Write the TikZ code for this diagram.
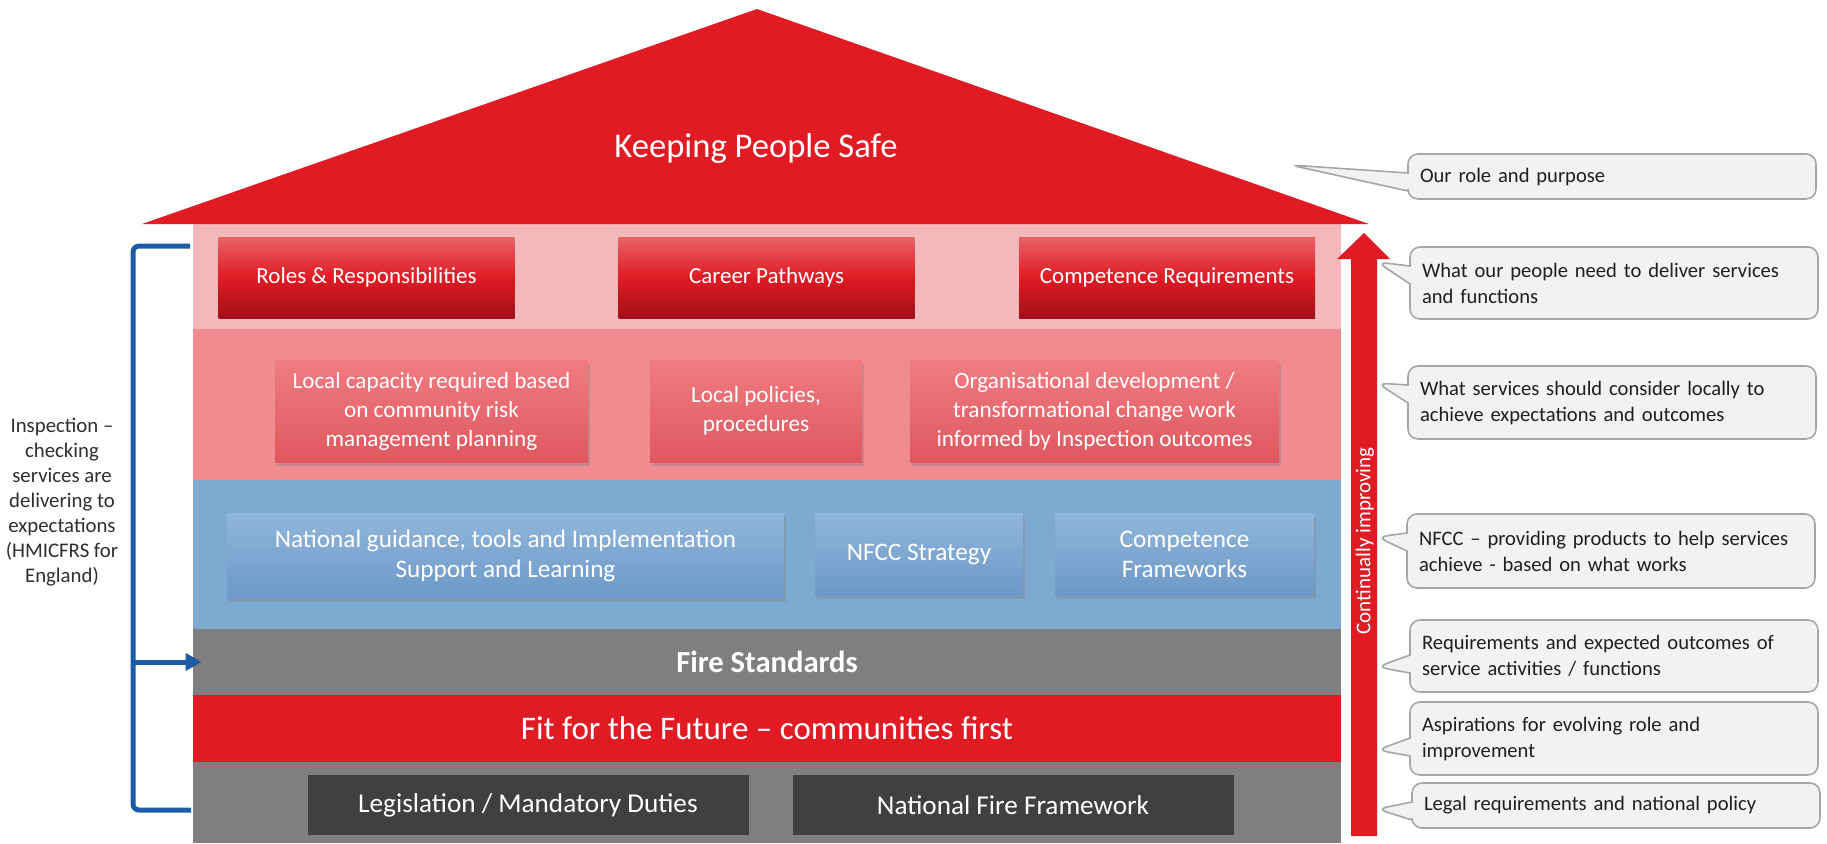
\documentclass[tikz,border=0pt]{standalone}
\usepackage{fontspec}
\setmainfont{Carlito}
\usetikzlibrary{shapes.callouts,shadows,arrows.meta}

\definecolor{roofred}{HTML}{E01B24}
\definecolor{pinklight}{HTML}{F4B8BB}
\definecolor{pinkdark}{HTML}{F08B8F}
\definecolor{bandblue}{HTML}{7EA9D0}
\definecolor{bandgrey}{HTML}{7F7F7F}
\definecolor{boxgrey}{HTML}{404040}
\definecolor{notefill}{HTML}{F2F2F2}
\definecolor{noteline}{HTML}{A6A6A6}
\definecolor{bracketblue}{HTML}{1A5DA6}
\definecolor{redtop}{RGB}{233,98,104}
\definecolor{redbottom}{RGB}{160,16,24}
\definecolor{pinktop}{RGB}{240,124,129}
\definecolor{pinkbottom}{RGB}{222,88,95}
\definecolor{bluetop}{RGB}{145,182,219}
\definecolor{bluebottom}{RGB}{108,153,199}

\begin{document}
\begin{tikzpicture}[x=0.5pt,y=-0.5pt,
		band/.style={minimum width=574pt,inner sep=0pt,text=white},
		redbox/.style={minimum width=148pt,minimum height=40.5pt,inner sep=0pt,text=white,
			font=\fontsize{11.5}{14}\selectfont,top color=redtop,bottom color=redbottom,middle color=roofred},
		pinkbox/.style={minimum height=51pt,inner sep=0pt,align=center,text=white,
			font=\fontsize{11.6}{14.5}\selectfont,top color=pinktop,bottom color=pinkbottom,
			drop shadow={shadow xshift=1pt,shadow yshift=-2pt,opacity=0.35}},
		bluebox/.style={minimum height=42.5pt,inner sep=0pt,align=center,text=white,
			font=\fontsize{12.6}{15}\selectfont,top color=bluetop,bottom color=bluebottom,
			drop shadow={shadow xshift=1pt,shadow yshift=-2pt,opacity=0.35}},
		darkbox/.style={minimum width=220.5pt,minimum height=30pt,inner sep=0pt,fill=boxgrey,text=white,
			font=\fontsize{13.6}{16}\selectfont},
		note/.style={rectangle callout,draw=noteline,fill=notefill,line width=0.8pt,rounded corners=5pt,
			text width=192pt,inner xsep=6pt,align=left,text=black!88,callout pointer width=9pt,
			font=\fontsize{10.3}{13}\selectfont},
		bracket/.style={draw=bracketblue,line width=2.5pt,rounded corners=3pt}]
		\useasboundingbox (0,0) rectangle (1827,843);
		\node[band,fill=pinklight,minimum height=54pt] (people) at (767,275) {};
		\node[band,fill=pinkdark,minimum height=75.5pt] (local) at (767,404.5) {};
		\node[band,fill=bandblue,minimum height=74.5pt] (nfcc) at (767,554.5) {};
		\node[band,fill=bandgrey,minimum height=33pt,font=\fontsize{15.3}{18}\selectfont\bfseries] (standards) at (767,662) {Fire Standards};
		\node[band,fill=roofred,minimum height=33.5pt,font=\fontsize{16.5}{19}\selectfont] (future) at (767,728.5) {Fit for the Future -- communities first};
		\node[band,fill=bandgrey,minimum height=40.5pt] (legal) at (767,802.5) {};
		\fill[roofred] (142,224) -- (757,9) -- (1369,224) -- cycle;
		\node[text=white,anchor=base,font=\fontsize{17.3}{20}\selectfont] (safe) at (756,157) {Keeping People Safe};
		\node[redbox] (roles) at (366.5,277.5) {Roles \& Responsibilities};
		\node[redbox] (career) at (766.5,277.5) {Career Pathways};
		\node[redbox] (compreq) at (1167,277.5) {Competence Requirements};
		\node[pinkbox,minimum width=156.5pt] (capacity) at (431.5,411) {Local capacity required based\\on community risk\\management planning};
		\node[pinkbox,minimum width=106pt] (policies) at (756,411) {Local policies,\\procedures};
		\node[pinkbox,minimum width=184.5pt] (orgdev) at (1094.5,411) {Organisational development /\\transformational change work\\informed by Inspection outcomes};
		\node[bluebox,minimum width=278.5pt] (guidance) at (505.5,555.5) {National guidance, tools and Implementation\\Support and Learning};
		\node[bluebox,minimum width=104pt,minimum height=41pt] (strategy) at (919,554) {NFCC Strategy};
		\node[bluebox,minimum width=129.5pt,minimum height=41pt] (frameworks) at (1184.5,554) {Competence\\Frameworks};
		\node[darkbox] (duties) at (528,805) {Legislation / Mandatory Duties};
		\node[darkbox] (framework) at (1013,805) {National Fire Framework};
		\fill[roofred] (1351,836) -- (1351,259) -- (1337,259) -- (1364,233) -- (1390,259) -- (1377,259) -- (1377,836) -- cycle;
		\node[rotate=90,text=white,font=\fontsize{10.5}{12}\selectfont] (improving) at (1365,541) {Continually improving};
		\coordinate (p1) at (1290,165);
		\coordinate (p2) at (1377,262);
		\coordinate (p3) at (1377,383);
		\coordinate (p4) at (1377,537);
		\coordinate (p5) at (1377,667);
		\coordinate (p6) at (1377,750);
		\coordinate (p7) at (1377,809);
		\node[note,minimum height=22.5pt,callout absolute pointer={(p1)}] (purpose) at (1612,176.5) {Our role and purpose};
		\node[note,minimum height=36pt,callout absolute pointer={(p2)}] (needs) at (1614,283) {What our people need to deliver services\\and functions};
		\node[note,minimum height=36.5pt,callout absolute pointer={(p3)}] (consider) at (1612,402.5) {What services should consider locally to\\achieve expectations and outcomes};
		\node[note,minimum height=37pt,callout absolute pointer={(p4)}] (products) at (1611,551) {NFCC -- providing products to help services\\achieve - based on what works};
		\node[note,minimum height=36pt,callout absolute pointer={(p5)}] (outcomes) at (1614,656) {Requirements and expected outcomes of\\service activities / functions};
		\node[note,minimum height=36.5pt,callout absolute pointer={(p6)}] (aspire) at (1614,738.5) {Aspirations for evolving role and\\improvement};
		\node[note,minimum height=22.5pt,callout absolute pointer={(p7)}] (policy) at (1616,805.5) {Legal requirements and national policy};
		\coordinate (bt) at (190,246);
		\coordinate (bb) at (191,810);
		\coordinate (insp) at (133,662);
		\draw[bracket] (bt) -| (insp) |- (bb);
		\draw[draw=bracketblue,line width=2.5pt,-{Triangle[length=8pt,width=8.5pt]},shorten >=-4.5pt] (insp) -- (standards.west);
		\node[align=center,text=black!82,font=\fontsize{10.4}{12.5}\selectfont] (inspection) at (62,502) {Inspection --\\checking\\services are\\delivering to\\expectations\\(HMICFRS for\\England)};
	\end{tikzpicture}
\end{document}
